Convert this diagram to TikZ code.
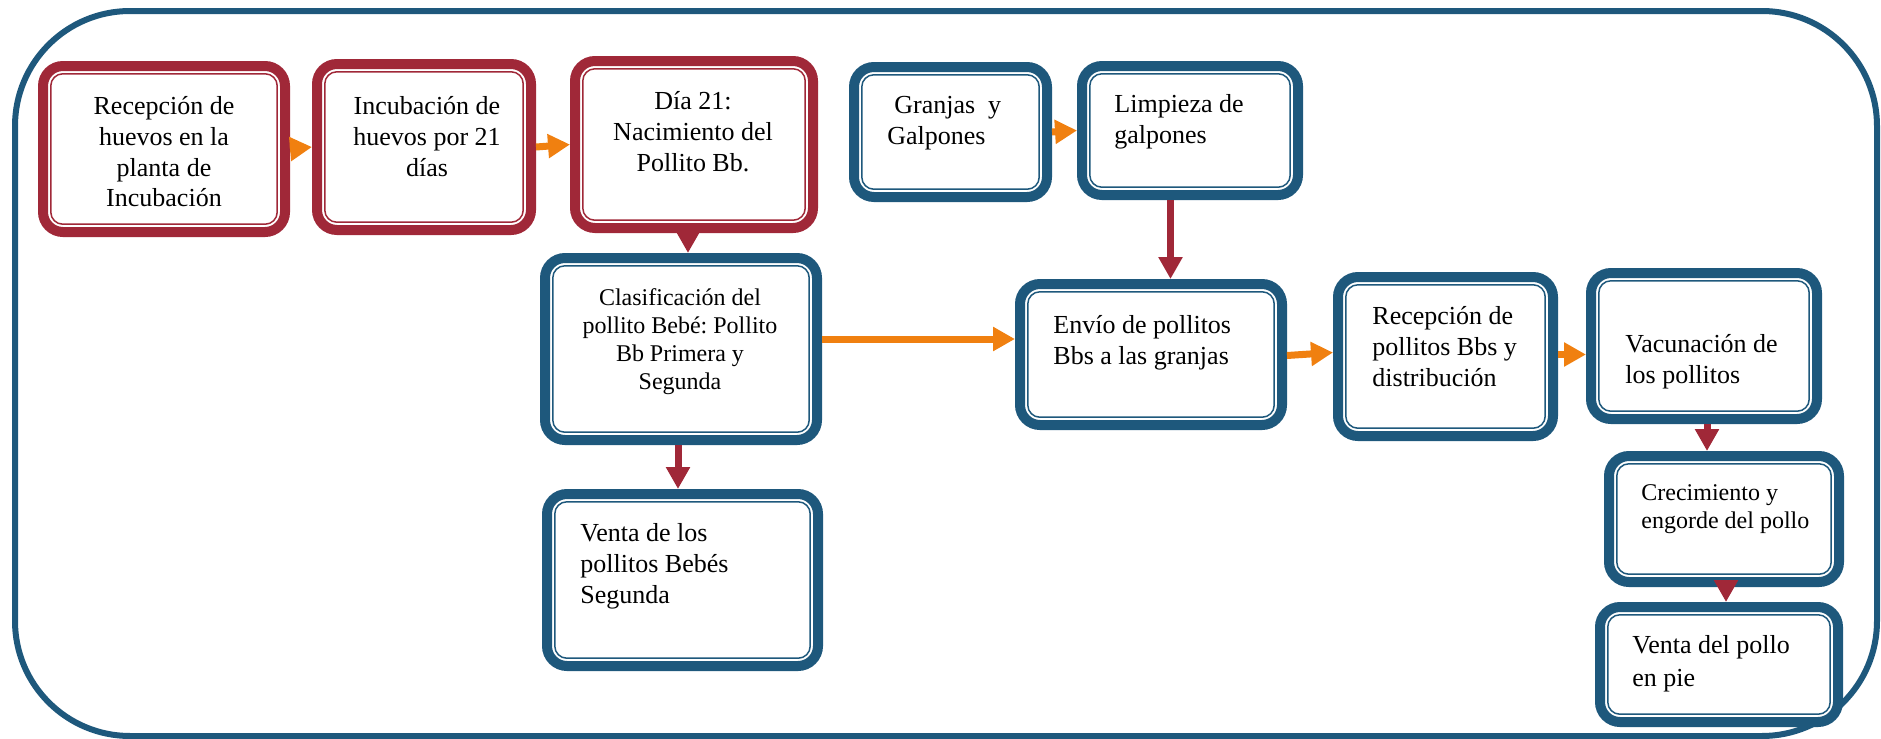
\documentclass[tikz,border=0pt]{standalone}
\usepackage{fontspec}
\setmainfont{Liberation Serif}
\usetikzlibrary{arrows.meta,calc}
\frenchspacing
\definecolor{myred}{RGB}{160,40,56}
\definecolor{myblue}{RGB}{30,88,124}
\definecolor{myorange}{RGB}{240,128,16}
\newcommand\bx[6]{%
  \node[boxst, draw=#2, minimum width={(#5-#3-10)*0.5pt}, minimum height={(#6-#4-10)*0.5pt}] (#1) at ({(#3+#5)/2},{(#4+#6)/2}) {};
  \draw[draw=#2, line width=0.75pt, rounded corners=6pt] ([shift={(6.4pt,6.4pt)}]#1.south west) rectangle ([shift={(-6.4pt,-6.4pt)}]#1.north east);
}
\newcommand\tx[5]{\node[txt,#2] (#1) at (#3,#4) {\strut #5};}
\begin{document}
\begin{tikzpicture}[x=0.5pt,y=-0.5pt,
  boxst/.style={rectangle, line width=5pt, rounded corners=10pt, inner sep=0pt, fill=white},
  txt/.style={inner sep=0pt, text=black, font=\fontsize{13}{15.4}\selectfont},
  small/.style={font=\fontsize{12}{14}\selectfont},
  tall/.style={font=\fontsize{13}{16.5}\selectfont},
  cn/.style={anchor=north, align=center},
  lf/.style={anchor=north west, align=left},
  oarr/.style={draw=myorange, line width=3.5pt, -{Triangle[length=11pt,width=11.5pt,fill=myorange]}},
  rarr/.style={draw=myred, line width=3.5pt, -{Triangle[length=11pt,width=11.5pt,fill=myred]}}]
\useasboundingbox (0,0) rectangle (1881,739);
\draw[myblue, line width=3pt, rounded corners=57.5pt] (15,11) rectangle (1877,736);
% boxes
\bx{b1}{myred}{38}{61}{290}{237}
\bx{b2}{myred}{312}{59}{536}{235}
\bx{b3}{myred}{570}{56}{818}{233}
\bx{b4}{myblue}{849}{62}{1052}{202}
\bx{b5}{myblue}{1077}{61}{1303}{200}
\bx{b6}{myblue}{540}{253}{822}{445}
\bx{b7}{myblue}{542}{489}{823}{671}
\bx{b8}{myblue}{1015}{279}{1287}{430}
\bx{b9}{myblue}{1333}{272}{1558}{441}
\bx{b10}{myblue}{1586}{268}{1822}{424}
\bx{b11}{myblue}{1604}{451}{1844}{587}
\bx{b12}{myblue}{1595}{602}{1843}{727}
% texts
\tx{t1}{cn}{164}{92.6}{Recepción de\\huevos en la\\planta de\\Incubación}
\tx{t2}{cn}{427}{92.6}{Incubación de\\huevos por 21\\días}
\tx{t3}{cn}{693}{87.6}{Día 21:\\Nacimiento del\\Pollito Bb.}
\tx{t4}{lf}{887}{91.6}{\hspace*{3.5pt}Granjas\ \ y\\Galpones}
\tx{t5}{lf}{1114}{90.6}{Limpieza de\\galpones}
\tx{t6}{cn,small}{680}{285.4}{Clasificación del\\pollito Bebé: Pollito\\Bb Primera y\\Segunda}
\tx{t7}{lf}{580}{519.6}{Venta de los\\pollitos Bebés\\Segunda}
\tx{t8}{lf}{1053}{311.6}{Envío de pollitos\\Bbs a las granjas}
\tx{t9}{lf}{1372}{302.6}{Recepción de\\pollitos Bbs y\\distribución}
\tx{t10}{lf}{1625}{330.6}{Vacunación de\\los pollitos}
\tx{t11}{lf,small}{1641}{480.4}{Crecimiento y\\engorde del pollo}
\tx{t12}{lf,tall}{1632}{629.9}{Venta del pollo\\en pie}
% connectors
\coordinate (m5) at ($(b5.south)!0.5!(b8.north)$);
\draw[oarr] (b1.east) -- (b2.west);
\draw[oarr] (b2.east) -- (b3.west);
\draw[oarr] (b4.east) -- (b5.west);
\draw[rarr] ([xshift=-3pt]b3.south) -- ([xshift=-3pt]b3.south |- b6.north);
\draw[rarr] (m5 |- b5.south) -- (m5 |- b8.north);
\draw[oarr] ([yshift=5pt]b6.east) -- ([yshift=5pt]b6.east -| b8.west);
\draw[oarr] ([yshift=-0.5pt]b8.east) -- ([yshift=2pt]b9.west);
\draw[oarr] ([yshift=1pt]b9.east) -- ([yshift=1pt]b9.east -| b10.west);
\draw[rarr] ([xshift=-1.5pt]b6.south) -- ([xshift=-1.5pt]b6.south |- b7.north);
\draw[rarr] ([xshift=1.5pt]b10.south) -- ([xshift=1.5pt]b10.south |- b11.north);
\draw[rarr] ([xshift=1pt]b11.south) -- ([xshift=1pt]b11.south |- b12.north);
\end{tikzpicture}
\end{document}
